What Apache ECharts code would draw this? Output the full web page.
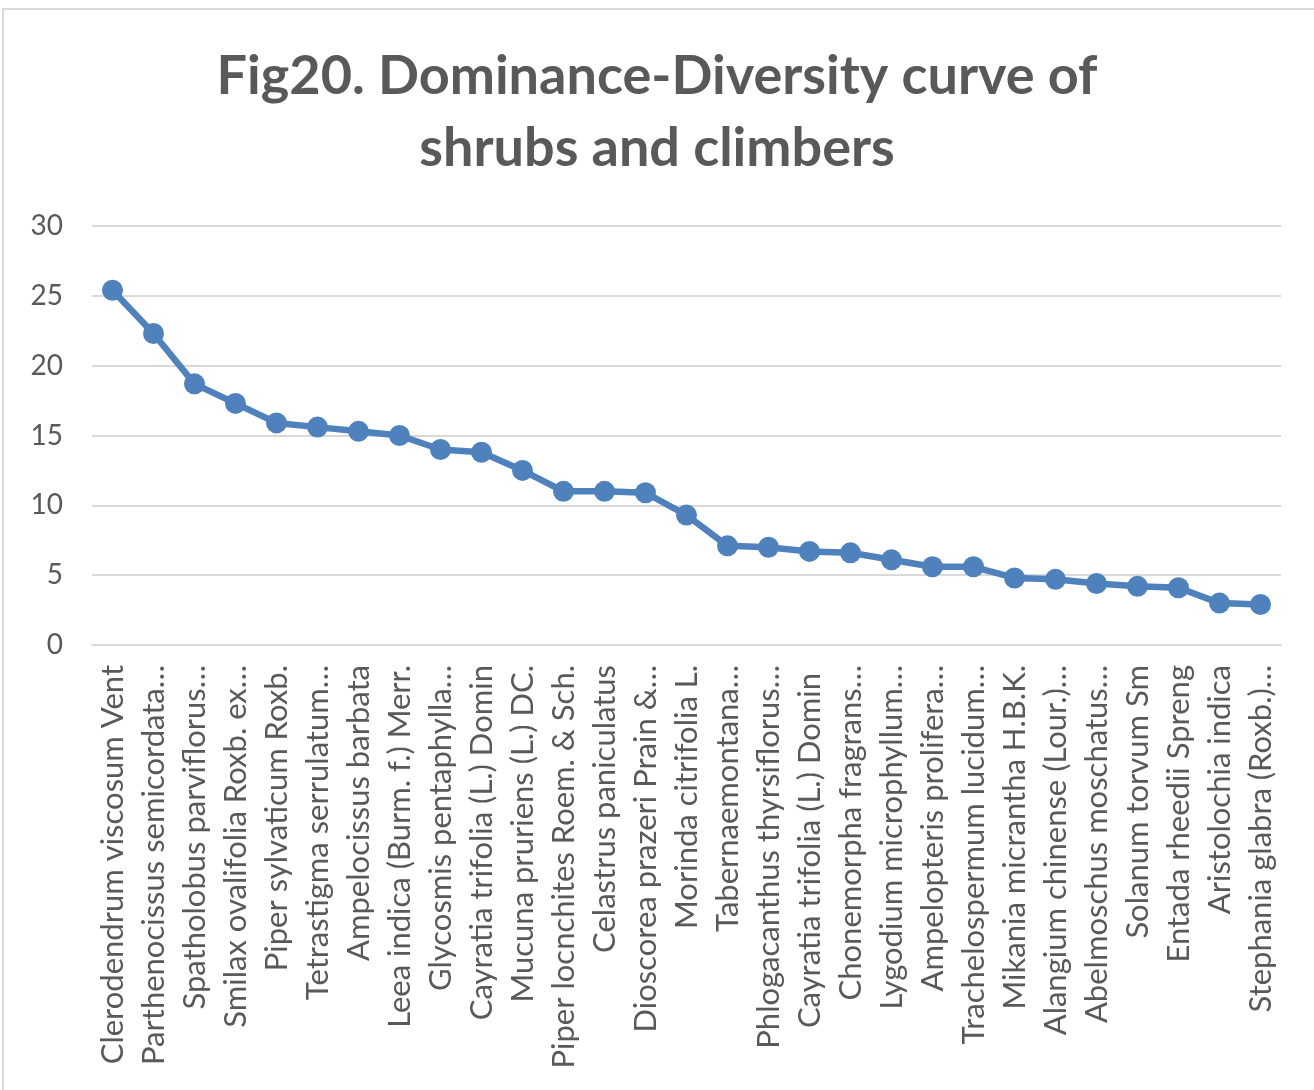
<!DOCTYPE html>
<html>
<head>
<meta charset="utf-8">
<script src="https://cdn.jsdelivr.net/npm/echarts@6/dist/echarts.min.js"></script>
<style>
  html, body { margin: 0; padding: 0; background: #ffffff; }
  #chart { width: 1314px; height: 1090px; }
</style>
</head>
<body>
<div id="chart"></div>
<script>
// Species names as shown on the category axis
const species = [
  "Clerodendrum viscosum Vent",
  "Parthenocissus semicordata…",
  "Spatholobus parviflorus…",
  "Smilax ovalifolia Roxb. ex…",
  "Piper sylvaticum Roxb.",
  "Tetrastigma serrulatum…",
  "Ampelocissus barbata",
  "Leea indica (Burm. f.) Merr.",
  "Glycosmis pentaphylla…",
  "Cayratia trifolia (L.) Domin",
  "Mucuna pruriens (L.) DC.",
  "Piper locnchites Roem. & Sch.",
  "Celastrus paniculatus",
  "Dioscorea prazeri Prain &…",
  "Morinda citrifolia L.",
  "Tabernaemontana…",
  "Phlogacanthus thyrsiflorus…",
  "Cayratia trifolia (L.) Domin ",
  "Chonemorpha fragrans…",
  "Lygodium microphyllum…",
  "Ampelopteris prolifera…",
  "Trachelospermum lucidum…",
  "Mikania micrantha H.B.K.",
  "Alangium chinense (Lour.)…",
  "Abelmoschus moschatus…",
  "Solanum torvum Sm",
  "Entada rheedii Spreng",
  "Aristolochia indica",
  "Stephania glabra (Roxb.)…"
];

// Importance values, ranked from most to least dominant
const importance = [
  25.4, 22.3, 18.7, 17.3, 15.9, 15.6, 15.3, 15.0, 14.0, 13.8,
  12.5, 11.0, 11.0, 10.9, 9.3, 7.1, 7.0, 6.7, 6.6, 6.1,
  5.6, 5.6, 4.8, 4.7, 4.4, 4.2, 4.1, 3.0, 2.9
];

// Value axis range and step
const yMin = 0;
const yMax = 30;
const yStep = 5;

const textColor = '#595959';
const gridColor = '#d9d9d9';
const lineColor = '#4f81bd';
const fontFamily = 'Lato, "Open Sans", sans-serif';

const chart = echarts.init(document.getElementById('chart'));

chart.setOption({
  animation: false,
  backgroundColor: '#ffffff',
  title: {
    text: 'Fig20. Dominance-Diversity curve of\nshrubs and climbers',
    left: 'center',
    top: 36,
    textStyle: {
      fontFamily: fontFamily,
      fontWeight: 'bold',
      fontSize: 54,
      lineHeight: 72,
      color: textColor
    }
  },
  graphic: [{
    type: 'rect',
    shape: { x: 3, y: 9, width: 1400, height: 1200 },
    style: { fill: 'none', stroke: gridColor, lineWidth: 2 },
    silent: true,
    z: -1
  }],
  grid: {
    left: 92,
    right: 33,
    top: 226,
    bottom: 445,
    containLabel: false
  },
  xAxis: {
    type: 'category',
    data: species,
    boundaryGap: true,
    axisLine: { show: true, lineStyle: { color: gridColor, width: 2 } },
    axisTick: { show: false },
    axisLabel: {
      rotate: 90,
      interval: 0,
      margin: 20,
      color: textColor,
      fontFamily: fontFamily,
      fontSize: 31
    }
  },
  yAxis: {
    type: 'value',
    min: yMin,
    max: yMax,
    interval: yStep,
    axisLine: { show: false },
    axisTick: { show: false },
    splitLine: { lineStyle: { color: gridColor, width: 2 } },
    axisLabel: {
      margin: 29,
      color: textColor,
      fontFamily: fontFamily,
      fontSize: 28
    }
  },
  series: [{
    type: 'line',
    data: importance,
    symbol: 'circle',
    symbolSize: 21,
    lineStyle: { color: lineColor, width: 6.5 },
    itemStyle: { color: lineColor },
    z: 3
  }]
});
</script>
</body>
</html>
